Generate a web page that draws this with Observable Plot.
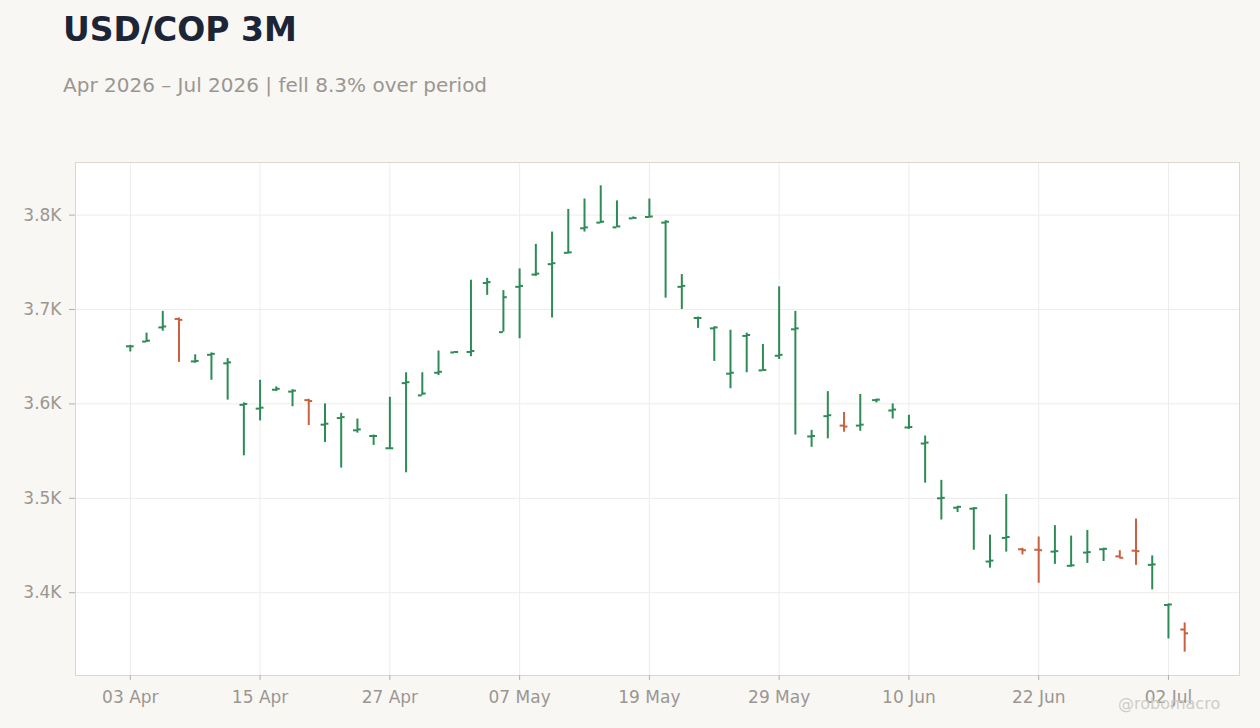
<!DOCTYPE html>
<html>
<head>
<meta charset="utf-8">
<script src="https://cdn.jsdelivr.net/npm/d3@7"></script>
<script src="https://cdn.jsdelivr.net/npm/@observablehq/plot@0.6"></script>
<style>
  html, body { margin: 0; padding: 0; background: #f8f7f4; }
  body { width: 1260px; height: 728px; position: relative; overflow: hidden; font-family: "DejaVu Sans", sans-serif; }
  #title { position: absolute; left: 63px; top: 13px; font-size: 33px; line-height: 33px; font-weight: bold; color: #1b2536; white-space: nowrap; }
  #subtitle { position: absolute; left: 63px; top: 75px; font-size: 20px; line-height: 20px; color: #9b9691; white-space: nowrap; }
  #chart { position: absolute; left: 0; top: 120px; }
  #mark { position: absolute; left: 1118px; top: 696px; font-size: 16px; line-height: 16px; color: #d0ccc8; white-space: nowrap; }
</style>
</head>
<body>
<div id="title">USD/COP 3M</div>
<div id="subtitle">Apr 2026 – Jul 2026 | fell 8.3% over period</div>
<div id="chart"></div>
<div id="mark">@robomacro</div>
<script>
// Trading days (weekdays) Apr 3 – Jul 3, 2026
const dates = [
  "2026-04-03","2026-04-06","2026-04-07","2026-04-08","2026-04-09","2026-04-10",
  "2026-04-13","2026-04-14","2026-04-15","2026-04-16","2026-04-17",
  "2026-04-20","2026-04-21","2026-04-22","2026-04-23","2026-04-24",
  "2026-04-27","2026-04-28","2026-04-29","2026-04-30","2026-05-01",
  "2026-05-04","2026-05-05","2026-05-06","2026-05-07","2026-05-08",
  "2026-05-11","2026-05-12","2026-05-13","2026-05-14","2026-05-15",
  "2026-05-18","2026-05-19","2026-05-20","2026-05-21","2026-05-22",
  "2026-05-25","2026-05-26","2026-05-27","2026-05-28","2026-05-29",
  "2026-06-01","2026-06-02","2026-06-03","2026-06-04","2026-06-05",
  "2026-06-08","2026-06-09","2026-06-10","2026-06-11","2026-06-12",
  "2026-06-15","2026-06-16","2026-06-17","2026-06-18","2026-06-19",
  "2026-06-22","2026-06-23","2026-06-24","2026-06-25","2026-06-26",
  "2026-06-29","2026-06-30","2026-07-01","2026-07-02","2026-07-03"
];
const open = [
  3661,3666,3681,3690,3645,3652,3643,3599,3595,3615,3613,
  3604,3578,3585,3572,3566,3553,3622,3609,3633,3654.5,
  3655,3728,3676,3724,3737,3748,3760,3786,3792,3787,
  3796.5,3798,3792,3724,3691,3680,3632,3672,3635.5,3651,
  3679,3565.5,3587,3577,3577,3604,3593,3575,3558,3500,
  3490,3489,3433,3458,3446,3445.5,3443.5,3428.5,3442.5,3446,
  3438.5,3444.5,3429.5,3387,3361
];
const high = [
  3662,3675,3698,3691,3652,3654,3648,3601,3625,3618,3615,
  3605,3600,3590,3584,3567,3607,3633,3633,3656,3655.5,
  3731,3733,3720,3743,3769,3782,3806,3817,3831,3815,
  3798,3817,3794,3737,3692,3681.5,3678,3675,3663,3724,
  3698,3572,3613,3591,3610,3605,3600,3588,3566,3519,
  3491.5,3490,3461,3504,3447,3459,3471,3460,3466,3447,
  3444.5,3478,3439,3388,3368
];
const low = [
  3655,3665,3677,3644,3643,3625,3604,3545,3582,3613,3597,
  3577,3559,3532,3569,3556,3552,3527,3609,3630,3654.5,
  3650,3715,3676,3669,3735,3691,3759,3782,3791,3787,
  3796,3797,3712,3700,3680,3645,3616,3633,3635,3647,
  3567,3554,3563,3570,3571,3601,3584,3573,3516,3477,
  3485,3445,3426,3443,3440,3410,3430,3427,3431,3433,
  3436.5,3429,3403,3351,3337
];
const close = [
  3661,3667,3682,3689,3645.5,3653,3644,3600,3596,3616,3614,
  3603,3579,3586,3573,3566,3553,3623,3611,3634,3655,
  3656,3729,3713,3725,3738,3749,3760.5,3787,3793,3788,
  3797,3798.5,3793,3725,3691,3681,3633,3673,3636,3652,
  3680,3566,3588,3576,3578,3604.5,3594,3575.5,3559,3500.5,
  3491,3489.5,3434,3459,3445,3445,3444,3429,3443,3446.5,
  3437,3444,3430,3387.5,3357
];
const yTicks = [3400, 3500, 3600, 3700, 3800];
const xTickEvery = 8;

const parse = d3.utcParse("%Y-%m-%d");
const fmt = d3.utcFormat("%d %b");
const data = dates.map((d, i) => ({
  i, date: parse(d), open: open[i], high: high[i], low: low[i], close: close[i],
  up: close[i] >= open[i]
}));
const xTicks = d3.range(0, data.length, xTickEvery);

const lo = d3.min(low), hi = d3.max(high), pad = (hi - lo) * 0.05;
const GREEN = "#2e8b57", RED = "#c9603f";
const colorOf = d => d.up ? GREEN : RED;
const tickHalf = 0.24;

const chart = Plot.plot({
  width: 1260,
  height: 600,
  marginLeft: 75,
  marginRight: 21,
  marginTop: 42,
  marginBottom: 45,
  style: { background: "transparent", fontFamily: "DejaVu Sans, sans-serif", fontSize: "17px", color: "#9b9691" },
  x: { type: "linear", domain: [-3.38, data.length - 1 + 3.38] },
  y: { domain: [lo - pad, hi + pad] },
  marks: [
    Plot.frame({ fill: "white", stroke: "none" }),
    Plot.gridX(xTicks, { stroke: "#eeecea", strokeOpacity: 1 }),
    Plot.gridY(yTicks, { stroke: "#eeecea", strokeOpacity: 1 }),
    Plot.frame({ stroke: "#dcd7cf" }),
    Plot.axisX(xTicks, { tickFormat: i => fmt(data[i].date), tickSize: 5, tickPadding: 10, stroke: "#b5b0aa", fill: "#9b9691", fontSize: 17, label: null }),
    Plot.axisY(yTicks, { tickFormat: d => (d / 1000).toFixed(1) + "K", tickSize: 6, tickPadding: 8, stroke: "#b5b0aa", fill: "#9b9691", fontSize: 17, label: null }),
    Plot.ruleX(data, { x: "i", y1: "low", y2: "high", stroke: colorOf, strokeWidth: 2 }),
    Plot.ruleY(data, { y: "open", x1: d => d.i - tickHalf, x2: "i", stroke: colorOf, strokeWidth: 2 }),
    Plot.ruleY(data, { y: "close", x1: "i", x2: d => d.i + tickHalf, stroke: colorOf, strokeWidth: 2 })
  ]
});
document.getElementById("chart").appendChild(chart);
</script>
</body>
</html>
